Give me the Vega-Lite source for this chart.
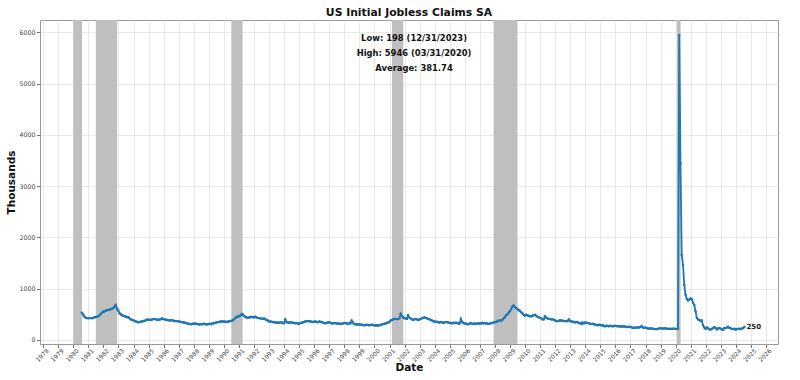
{
"$schema": "https://vega.github.io/schema/vega-lite/v6.json",
"width": 738, "height": 324,
"autosize": {"type": "none"},
"padding": {"left": 40, "top": 20, "right": 22, "bottom": 36},
"background": "white",
"title": {"text": "US Initial Jobless Claims SA", "fontSize": 10.8, "fontWeight": "bold", "font": "DejaVu Sans", "color": "#111", "offset": 2, "anchor": "middle"},
"config": {"view": {"stroke": "#999", "strokeWidth": 1}, "font": "DejaVu Sans"},
"datasets": {
"recessions": [
{"s":"1980-01-01","e":"1980-07-31"},
{"s":"1981-07-01","e":"1982-11-30"},
{"s":"1990-07-01","e":"1991-03-31"},
{"s":"2001-03-01","e":"2001-11-30"},
{"s":"2007-12-01","e":"2009-06-30"},
{"s":"2020-02-01","e":"2020-04-30"}
],
"claims": [
{"d":"1980-07-28","v":530},{"d":"1980-08-28","v":495},{"d":"1980-09-28","v":455},{"d":"1980-10-28","v":430},{"d":"1980-11-28","v":425},{"d":"1980-12-28","v":420},
{"d":"1981-01-28","v":425},{"d":"1981-02-28","v":430},{"d":"1981-03-28","v":420},{"d":"1981-04-28","v":430},{"d":"1981-05-28","v":440},{"d":"1981-06-28","v":445},{"d":"1981-07-28","v":450},{"d":"1981-08-28","v":460},{"d":"1981-09-28","v":480},{"d":"1981-10-28","v":505},{"d":"1981-11-28","v":530},{"d":"1981-12-28","v":550},
{"d":"1982-01-28","v":555},{"d":"1982-02-28","v":570},{"d":"1982-03-28","v":580},{"d":"1982-04-28","v":585},{"d":"1982-05-28","v":590},{"d":"1982-06-28","v":600},{"d":"1982-07-28","v":610},{"d":"1982-08-28","v":620},{"d":"1982-09-28","v":650},{"d":"1982-10-28","v":682},{"d":"1982-11-28","v":610},{"d":"1982-12-28","v":570},
{"d":"1983-01-28","v":520},{"d":"1983-02-28","v":500},{"d":"1983-03-28","v":480},{"d":"1983-04-28","v":470},{"d":"1983-05-28","v":460},{"d":"1983-06-28","v":455},{"d":"1983-07-28","v":440},{"d":"1983-08-28","v":445},{"d":"1983-09-28","v":420},{"d":"1983-10-28","v":400},{"d":"1983-11-28","v":390},{"d":"1983-12-28","v":385},
{"d":"1984-01-28","v":370},{"d":"1984-02-28","v":360},{"d":"1984-03-28","v":350},{"d":"1984-04-28","v":345},{"d":"1984-05-28","v":350},{"d":"1984-06-28","v":355},{"d":"1984-07-28","v":360},{"d":"1984-08-28","v":370},{"d":"1984-09-28","v":375},{"d":"1984-10-28","v":385},{"d":"1984-11-28","v":400},{"d":"1984-12-28","v":395},
{"d":"1985-01-28","v":395},{"d":"1985-02-28","v":390},{"d":"1985-03-28","v":400},{"d":"1985-04-28","v":405},{"d":"1985-05-28","v":410},{"d":"1985-06-28","v":400},{"d":"1985-07-28","v":395},{"d":"1985-08-28","v":390},{"d":"1985-09-28","v":400},{"d":"1985-10-28","v":405},{"d":"1985-11-28","v":420},{"d":"1985-12-28","v":405},
{"d":"1986-01-28","v":400},{"d":"1986-02-28","v":395},{"d":"1986-03-28","v":390},{"d":"1986-04-28","v":385},{"d":"1986-05-28","v":380},{"d":"1986-06-28","v":385},{"d":"1986-07-28","v":385},{"d":"1986-08-28","v":375},{"d":"1986-09-28","v":370},{"d":"1986-10-28","v":365},{"d":"1986-11-28","v":370},{"d":"1986-12-28","v":360},
{"d":"1987-01-28","v":355},{"d":"1987-02-28","v":350},{"d":"1987-03-28","v":345},{"d":"1987-04-28","v":340},{"d":"1987-05-28","v":335},{"d":"1987-06-28","v":330},{"d":"1987-07-28","v":320},{"d":"1987-08-28","v":315},{"d":"1987-09-28","v":310},{"d":"1987-10-28","v":305},{"d":"1987-11-28","v":315},{"d":"1987-12-28","v":310},
{"d":"1988-01-28","v":320},{"d":"1988-02-28","v":315},{"d":"1988-03-28","v":310},{"d":"1988-04-28","v":305},{"d":"1988-05-28","v":300},{"d":"1988-06-28","v":310},{"d":"1988-07-28","v":305},{"d":"1988-08-28","v":315},{"d":"1988-09-28","v":310},{"d":"1988-10-28","v":300},{"d":"1988-11-28","v":305},{"d":"1988-12-28","v":310},
{"d":"1989-01-28","v":315},{"d":"1989-02-28","v":305},{"d":"1989-03-28","v":320},{"d":"1989-04-28","v":325},{"d":"1989-05-28","v":330},{"d":"1989-06-28","v":340},{"d":"1989-07-28","v":345},{"d":"1989-08-28","v":350},{"d":"1989-09-28","v":355},{"d":"1989-10-28","v":365},{"d":"1989-11-28","v":355},{"d":"1989-12-28","v":360},
{"d":"1990-01-28","v":355},{"d":"1990-02-28","v":350},{"d":"1990-03-28","v":355},{"d":"1990-04-28","v":360},{"d":"1990-05-28","v":365},{"d":"1990-06-28","v":370},{"d":"1990-07-28","v":380},{"d":"1990-08-28","v":400},{"d":"1990-09-28","v":420},{"d":"1990-10-28","v":440},{"d":"1990-11-28","v":460},{"d":"1990-12-28","v":455},
{"d":"1991-01-28","v":470},{"d":"1991-02-28","v":495},{"d":"1991-03-28","v":507},{"d":"1991-04-28","v":470},{"d":"1991-05-28","v":450},{"d":"1991-06-28","v":440},{"d":"1991-07-28","v":430},{"d":"1991-08-28","v":435},{"d":"1991-09-28","v":440},{"d":"1991-10-28","v":450},{"d":"1991-11-28","v":445},{"d":"1991-12-28","v":435},
{"d":"1992-01-28","v":450},{"d":"1992-02-28","v":440},{"d":"1992-03-28","v":430},{"d":"1992-04-28","v":425},{"d":"1992-05-28","v":420},{"d":"1992-06-28","v":415},{"d":"1992-07-28","v":410},{"d":"1992-08-28","v":420},{"d":"1992-09-28","v":405},{"d":"1992-10-28","v":390},{"d":"1992-11-28","v":380},{"d":"1992-12-28","v":360},
{"d":"1993-01-28","v":360},{"d":"1993-02-28","v":355},{"d":"1993-03-28","v":350},{"d":"1993-04-28","v":345},{"d":"1993-05-28","v":340},{"d":"1993-06-28","v":340},{"d":"1993-07-28","v":335},{"d":"1993-08-28","v":335},{"d":"1993-09-28","v":340},{"d":"1993-10-28","v":345},{"d":"1993-11-28","v":330},{"d":"1993-12-28","v":325},
{"d":"1994-01-28","v":400},{"d":"1994-02-28","v":350},{"d":"1994-03-28","v":340},{"d":"1994-04-28","v":335},{"d":"1994-05-28","v":345},{"d":"1994-06-28","v":340},{"d":"1994-07-28","v":335},{"d":"1994-08-28","v":330},{"d":"1994-09-28","v":325},{"d":"1994-10-28","v":330},{"d":"1994-11-28","v":320},{"d":"1994-12-28","v":310},
{"d":"1995-01-28","v":330},{"d":"1995-02-28","v":335},{"d":"1995-03-28","v":340},{"d":"1995-04-28","v":350},{"d":"1995-05-28","v":360},{"d":"1995-06-28","v":365},{"d":"1995-07-28","v":370},{"d":"1995-08-28","v":365},{"d":"1995-09-28","v":360},{"d":"1995-10-28","v":355},{"d":"1995-11-28","v":350},{"d":"1995-12-28","v":355},
{"d":"1996-01-28","v":360},{"d":"1996-02-28","v":350},{"d":"1996-03-28","v":345},{"d":"1996-04-28","v":360},{"d":"1996-05-28","v":355},{"d":"1996-06-28","v":345},{"d":"1996-07-28","v":340},{"d":"1996-08-28","v":330},{"d":"1996-09-28","v":325},{"d":"1996-10-28","v":330},{"d":"1996-11-28","v":340},{"d":"1996-12-28","v":345},
{"d":"1997-01-28","v":335},{"d":"1997-02-28","v":325},{"d":"1997-03-28","v":320},{"d":"1997-04-28","v":330},{"d":"1997-05-28","v":325},{"d":"1997-06-28","v":320},{"d":"1997-07-28","v":315},{"d":"1997-08-28","v":320},{"d":"1997-09-28","v":310},{"d":"1997-10-28","v":315},{"d":"1997-11-28","v":320},{"d":"1997-12-28","v":330},
{"d":"1998-01-28","v":330},{"d":"1998-02-28","v":320},{"d":"1998-03-28","v":310},{"d":"1998-04-28","v":330},{"d":"1998-05-28","v":320},{"d":"1998-06-28","v":380},{"d":"1998-07-28","v":340},{"d":"1998-08-28","v":310},{"d":"1998-09-28","v":305},{"d":"1998-10-28","v":300},{"d":"1998-11-28","v":305},{"d":"1998-12-28","v":300},
{"d":"1999-01-28","v":300},{"d":"1999-02-28","v":295},{"d":"1999-03-28","v":290},{"d":"1999-04-28","v":285},{"d":"1999-05-28","v":290},{"d":"1999-06-28","v":295},{"d":"1999-07-28","v":290},{"d":"1999-08-28","v":285},{"d":"1999-09-28","v":290},{"d":"1999-10-28","v":295},{"d":"1999-11-28","v":290},{"d":"1999-12-28","v":285},
{"d":"2000-01-28","v":280},{"d":"2000-02-28","v":285},{"d":"2000-03-28","v":280},{"d":"2000-04-28","v":285},{"d":"2000-05-28","v":290},{"d":"2000-06-28","v":300},{"d":"2000-07-28","v":310},{"d":"2000-08-28","v":315},{"d":"2000-09-28","v":320},{"d":"2000-10-28","v":330},{"d":"2000-11-28","v":340},{"d":"2000-12-28","v":350},
{"d":"2001-01-28","v":380},{"d":"2001-02-28","v":390},{"d":"2001-03-28","v":400},{"d":"2001-04-28","v":410},{"d":"2001-05-28","v":410},{"d":"2001-06-28","v":405},{"d":"2001-07-28","v":410},{"d":"2001-08-28","v":420},{"d":"2001-09-28","v":510},{"d":"2001-10-28","v":470},{"d":"2001-11-28","v":440},{"d":"2001-12-28","v":420},
{"d":"2002-01-28","v":420},{"d":"2002-02-28","v":410},{"d":"2002-03-28","v":480},{"d":"2002-04-28","v":430},{"d":"2002-05-28","v":420},{"d":"2002-06-28","v":400},{"d":"2002-07-28","v":390},{"d":"2002-08-28","v":400},{"d":"2002-09-28","v":410},{"d":"2002-10-28","v":400},{"d":"2002-11-28","v":390},{"d":"2002-12-28","v":400},
{"d":"2003-01-28","v":410},{"d":"2003-02-28","v":420},{"d":"2003-03-28","v":430},{"d":"2003-04-28","v":440},{"d":"2003-05-28","v":430},{"d":"2003-06-28","v":420},{"d":"2003-07-28","v":410},{"d":"2003-08-28","v":400},{"d":"2003-09-28","v":390},{"d":"2003-10-28","v":380},{"d":"2003-11-28","v":365},{"d":"2003-12-28","v":360},
{"d":"2004-01-28","v":350},{"d":"2004-02-28","v":355},{"d":"2004-03-28","v":345},{"d":"2004-04-28","v":340},{"d":"2004-05-28","v":350},{"d":"2004-06-28","v":340},{"d":"2004-07-28","v":335},{"d":"2004-08-28","v":340},{"d":"2004-09-28","v":350},{"d":"2004-10-28","v":345},{"d":"2004-11-28","v":340},{"d":"2004-12-28","v":330},
{"d":"2005-01-28","v":330},{"d":"2005-02-28","v":320},{"d":"2005-03-28","v":335},{"d":"2005-04-28","v":330},{"d":"2005-05-28","v":335},{"d":"2005-06-28","v":330},{"d":"2005-07-28","v":320},{"d":"2005-08-28","v":320},{"d":"2005-09-28","v":410},{"d":"2005-10-28","v":350},{"d":"2005-11-28","v":330},{"d":"2005-12-28","v":320},
{"d":"2006-01-28","v":315},{"d":"2006-02-28","v":310},{"d":"2006-03-28","v":305},{"d":"2006-04-28","v":320},{"d":"2006-05-28","v":330},{"d":"2006-06-28","v":310},{"d":"2006-07-28","v":315},{"d":"2006-08-28","v":320},{"d":"2006-09-28","v":310},{"d":"2006-10-28","v":315},{"d":"2006-11-28","v":325},{"d":"2006-12-28","v":320},
{"d":"2007-01-28","v":320},{"d":"2007-02-28","v":335},{"d":"2007-03-28","v":320},{"d":"2007-04-28","v":330},{"d":"2007-05-28","v":320},{"d":"2007-06-28","v":320},{"d":"2007-07-28","v":310},{"d":"2007-08-28","v":320},{"d":"2007-09-28","v":325},{"d":"2007-10-28","v":330},{"d":"2007-11-28","v":340},{"d":"2007-12-28","v":345},
{"d":"2008-01-28","v":350},{"d":"2008-02-28","v":360},{"d":"2008-03-28","v":375},{"d":"2008-04-28","v":380},{"d":"2008-05-28","v":380},{"d":"2008-06-28","v":390},{"d":"2008-07-28","v":420},{"d":"2008-08-28","v":440},{"d":"2008-09-28","v":480},{"d":"2008-10-28","v":500},{"d":"2008-11-28","v":530},{"d":"2008-12-28","v":560},
{"d":"2009-01-28","v":600},{"d":"2009-02-28","v":650},{"d":"2009-03-28","v":670},{"d":"2009-04-28","v":640},{"d":"2009-05-28","v":620},{"d":"2009-06-28","v":610},{"d":"2009-07-28","v":580},{"d":"2009-08-28","v":570},{"d":"2009-09-28","v":540},{"d":"2009-10-28","v":520},{"d":"2009-11-28","v":490},{"d":"2009-12-28","v":470},
{"d":"2010-01-28","v":490},{"d":"2010-02-28","v":480},{"d":"2010-03-28","v":470},{"d":"2010-04-28","v":460},{"d":"2010-05-28","v":460},{"d":"2010-06-28","v":470},{"d":"2010-07-28","v":480},{"d":"2010-08-28","v":490},{"d":"2010-09-28","v":470},{"d":"2010-10-28","v":450},{"d":"2010-11-28","v":440},{"d":"2010-12-28","v":430},
{"d":"2011-01-28","v":420},{"d":"2011-02-28","v":400},{"d":"2011-03-28","v":400},{"d":"2011-04-28","v":460},{"d":"2011-05-28","v":430},{"d":"2011-06-28","v":420},{"d":"2011-07-28","v":410},{"d":"2011-08-28","v":410},{"d":"2011-09-28","v":400},{"d":"2011-10-28","v":400},{"d":"2011-11-28","v":395},{"d":"2011-12-28","v":380},
{"d":"2012-01-28","v":370},{"d":"2012-02-28","v":365},{"d":"2012-03-28","v":375},{"d":"2012-04-28","v":380},{"d":"2012-05-28","v":380},{"d":"2012-06-28","v":375},{"d":"2012-07-28","v":370},{"d":"2012-08-28","v":370},{"d":"2012-09-28","v":365},{"d":"2012-10-28","v":370},{"d":"2012-11-28","v":400},{"d":"2012-12-28","v":370},
{"d":"2013-01-28","v":360},{"d":"2013-02-28","v":350},{"d":"2013-03-28","v":355},{"d":"2013-04-28","v":340},{"d":"2013-05-28","v":350},{"d":"2013-06-28","v":345},{"d":"2013-07-28","v":330},{"d":"2013-08-28","v":325},{"d":"2013-09-28","v":310},{"d":"2013-10-28","v":340},{"d":"2013-11-28","v":320},{"d":"2013-12-28","v":340},
{"d":"2014-01-28","v":335},{"d":"2014-02-28","v":330},{"d":"2014-03-28","v":325},{"d":"2014-04-28","v":310},{"d":"2014-05-28","v":310},{"d":"2014-06-28","v":315},{"d":"2014-07-28","v":305},{"d":"2014-08-28","v":300},{"d":"2014-09-28","v":290},{"d":"2014-10-28","v":285},{"d":"2014-11-28","v":295},{"d":"2014-12-28","v":290},
{"d":"2015-01-28","v":280},{"d":"2015-02-28","v":290},{"d":"2015-03-28","v":270},{"d":"2015-04-28","v":265},{"d":"2015-05-28","v":275},{"d":"2015-06-28","v":270},{"d":"2015-07-28","v":265},{"d":"2015-08-28","v":275},{"d":"2015-09-28","v":270},{"d":"2015-10-28","v":265},{"d":"2015-11-28","v":270},{"d":"2015-12-28","v":275},
{"d":"2016-01-28","v":270},{"d":"2016-02-28","v":265},{"d":"2016-03-28","v":265},{"d":"2016-04-28","v":260},{"d":"2016-05-28","v":265},{"d":"2016-06-28","v":260},{"d":"2016-07-28","v":265},{"d":"2016-08-28","v":255},{"d":"2016-09-28","v":250},{"d":"2016-10-28","v":255},{"d":"2016-11-28","v":250},{"d":"2016-12-28","v":255},
{"d":"2017-01-28","v":245},{"d":"2017-02-28","v":230},{"d":"2017-03-28","v":240},{"d":"2017-04-28","v":235},{"d":"2017-05-28","v":240},{"d":"2017-06-28","v":245},{"d":"2017-07-28","v":240},{"d":"2017-08-28","v":250},{"d":"2017-09-28","v":270},{"d":"2017-10-28","v":240},{"d":"2017-11-28","v":235},{"d":"2017-12-28","v":240},
{"d":"2018-01-28","v":230},{"d":"2018-02-28","v":220},{"d":"2018-03-28","v":225},{"d":"2018-04-28","v":220},{"d":"2018-05-28","v":225},{"d":"2018-06-28","v":220},{"d":"2018-07-28","v":215},{"d":"2018-08-28","v":210},{"d":"2018-09-28","v":210},{"d":"2018-10-28","v":215},{"d":"2018-11-28","v":225},{"d":"2018-12-28","v":230},
{"d":"2019-01-28","v":220},{"d":"2019-02-28","v":225},{"d":"2019-03-28","v":220},{"d":"2019-04-28","v":230},{"d":"2019-05-28","v":215},{"d":"2019-06-28","v":220},{"d":"2019-07-28","v":215},{"d":"2019-08-28","v":220},{"d":"2019-09-28","v":215},{"d":"2019-10-28","v":220},{"d":"2019-11-28","v":220},{"d":"2019-12-28","v":215},
{"d":"2020-01-28","v":215},{"d":"2020-02-28","v":220},{"d":"2020-03-28","v":5946},{"d":"2020-04-28","v":3446},{"d":"2020-05-28","v":1657},{"d":"2020-06-28","v":1462},{"d":"2020-07-28","v":1072},{"d":"2020-08-28","v":880},{"d":"2020-09-28","v":800},{"d":"2020-10-28","v":770},{"d":"2020-11-28","v":790},{"d":"2020-12-28","v":810},
{"d":"2021-01-28","v":790},{"d":"2021-02-28","v":720},{"d":"2021-03-28","v":680},{"d":"2021-04-28","v":560},{"d":"2021-05-28","v":430},{"d":"2021-06-28","v":400},{"d":"2021-07-28","v":390},{"d":"2021-08-28","v":370},{"d":"2021-09-28","v":380},{"d":"2021-10-28","v":280},{"d":"2021-11-28","v":240},{"d":"2021-12-28","v":215},
{"d":"2022-01-28","v":240},{"d":"2022-02-28","v":225},{"d":"2022-03-28","v":205},{"d":"2022-04-28","v":200},{"d":"2022-05-28","v":215},{"d":"2022-06-28","v":230},{"d":"2022-07-28","v":250},{"d":"2022-08-28","v":235},{"d":"2022-09-28","v":205},{"d":"2022-10-28","v":225},{"d":"2022-11-28","v":230},{"d":"2022-12-28","v":220},
{"d":"2023-01-28","v":205},{"d":"2023-02-28","v":200},{"d":"2023-03-28","v":235},{"d":"2023-04-28","v":230},{"d":"2023-05-28","v":240},{"d":"2023-06-28","v":255},{"d":"2023-07-28","v":230},{"d":"2023-08-28","v":230},{"d":"2023-09-28","v":210},{"d":"2023-10-28","v":215},{"d":"2023-11-28","v":220},{"d":"2023-12-28","v":198},
{"d":"2024-01-28","v":215},{"d":"2024-02-28","v":215},{"d":"2024-03-28","v":220},{"d":"2024-04-28","v":210},{"d":"2024-05-28","v":225},{"d":"2024-06-28","v":235},{"d":"2024-07-28","v":250}
]
},
"layer": [
{
"data": {"name": "recessions"},
"mark": {"type": "rect", "color": "#bfbfbf"},
"encoding": {
"x": {"field": "s", "type": "temporal",
"scale": {"type": "utc", "domain": [{"year": 1977, "month": 10, "date": 16, "utc": true}, {"year": 2026, "month": 10, "date": 19, "utc": true}]},
"axis": {"title": "Date", "titleFontSize": 10.5, "titleFontWeight": "bold", "titleColor": "#111", "titlePadding": 0,
"tickCount": {"interval": "year", "step": 1}, "format": "%Y", "labelAngle": -45, "labelAlign": "right", "labelBaseline": "middle",
"labelOffset": 4, "labelFontSize": 6, "labelColor": "#444", "labelPadding": 2, "labelOverlap": false, "labelFlush": false,
"domain": false, "tickSize": 3.5, "tickColor": "#777", "grid": true, "gridColor": "#e3e3e3", "gridWidth": 0.8}},
"x2": {"field": "e"}
}
},
{
"data": {"name": "claims"},
"mark": {"type": "line", "color": "#1f77b4", "strokeWidth": 1.8, "point": {"filled": true, "size": 6, "color": "#1f77b4"}},
"encoding": {
"x": {"field": "d", "type": "temporal"},
"y": {"field": "v", "type": "quantitative",
"scale": {"domain": [-80, 6240], "nice": false, "zero": false},
"axis": {"title": "Thousands", "titleFontSize": 10.5, "titleFontWeight": "bold", "titleColor": "#111", "titlePadding": 2,
"values": [0, 1000, 2000, 3000, 4000, 5000, 6000], "format": "d", "labelFontSize": 6.3, "labelColor": "#444", "labelPadding": 1.5,
"domain": false, "tickSize": 3.5, "tickColor": "#777", "grid": true, "gridColor": "#e3e3e3", "gridWidth": 0.8}}
}
},
{
"data": {"name": "claims"},
"transform": [{"filter": "datum.v == 250 && utcyear(datum.d) == 2024"}],
"mark": {"type": "text", "align": "left", "baseline": "middle", "dx": 2, "fontSize": 7, "fontWeight": "bold", "color": "#222"},
"encoding": {
"x": {"field": "d", "type": "temporal"},
"y": {"field": "v", "type": "quantitative"},
"text": {"field": "v", "type": "quantitative", "format": "d"}
}
},
{
"data": {"values": [{"t": "Low: 198 (12/31/2023)"}]},
"mark": {"type": "text", "align": "center", "baseline": "middle", "fontSize": 8.4, "fontWeight": "bold", "color": "#111"},
"encoding": {
"x": {"datum": {"year": 2002, "month": 8, "date": 18, "utc": true}, "type": "temporal"},
"y": {"datum": 5883, "type": "quantitative"},
"text": {"field": "t", "type": "nominal"}
}
},
{
"data": {"values": [{"t": "High: 5946 (03/31/2020)"}]},
"mark": {"type": "text", "align": "center", "baseline": "middle", "fontSize": 8.4, "fontWeight": "bold", "color": "#111"},
"encoding": {
"x": {"datum": {"year": 2002, "month": 8, "date": 18, "utc": true}, "type": "temporal"},
"y": {"datum": 5591, "type": "quantitative"},
"text": {"field": "t", "type": "nominal"}
}
},
{
"data": {"values": [{"t": "Average: 381.74"}]},
"mark": {"type": "text", "align": "center", "baseline": "middle", "fontSize": 8.4, "fontWeight": "bold", "color": "#111"},
"encoding": {
"x": {"datum": {"year": 2002, "month": 8, "date": 18, "utc": true}, "type": "temporal"},
"y": {"datum": 5298, "type": "quantitative"},
"text": {"field": "t", "type": "nominal"}
}
}
]
}
